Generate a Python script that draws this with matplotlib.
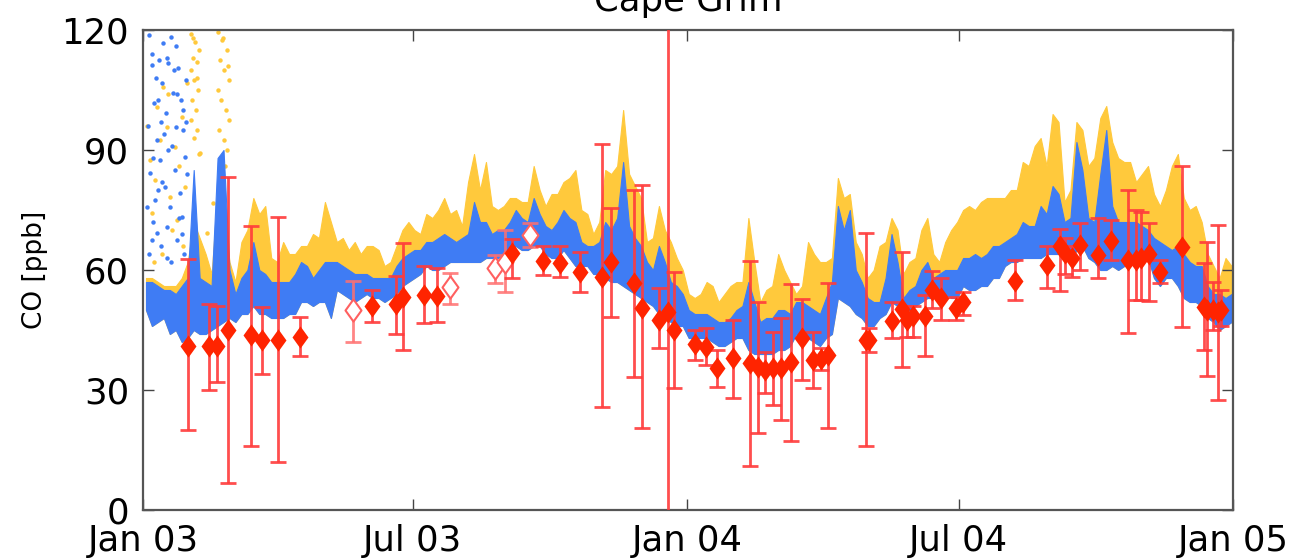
import numpy as np
import matplotlib
matplotlib.use("Agg")
import matplotlib.pyplot as plt
import matplotlib.dates as mdates
from matplotlib.ticker import FixedLocator

# ---------------------------------------------------------------------------
# Data
# ---------------------------------------------------------------------------
START = np.datetime64("2003-01-01")
BIN_DAYS = 4  # spacing of the band samples in days

# 4-day samples of the continuous records (ppb): low/high of the blue record,
# upper envelope of the yellow record
blue_lo = [50, 46, 47, 48, 44, 45, 42, 43, 45, 44,
           44, 45, 46, 47, 48, 47, 49, 49, 51, 49,
           49, 48, 48, 48, 49, 49, 52, 52, 51, 52,
           52, 48, 55, 54, 53, 52, 53, 54, 53, 53,
           52, 53, 54, 56, 57, 58, 59, 61, 60, 60,
           61, 62, 62, 62, 62, 62, 62, 63, 63, 63,
           64, 65, 66, 65, 65, 66, 66, 64, 63, 63,
           65, 63, 61, 61, 61, 59, 59, 58, 57, 57,
           56, 55, 54, 53, 52, 51, 49, 48, 47, 46,
           46, 43, 43, 43, 43, 42, 41, 41, 42, 43,
           43, 40, 39, 39, 39, 39, 40, 40, 41, 44,
           44, 43, 42, 41, 43, 44, 53, 52, 51, 49,
           48, 46, 46, 48, 49, 52, 51, 49, 50, 51,
           52, 53, 53, 54, 54, 53, 53, 56, 55, 55,
           56, 56, 58, 58, 61, 62, 62, 63, 63, 63,
           63, 64, 64, 64, 63, 62, 65, 66, 63, 62,
           60, 60, 61, 60, 61, 63, 63, 62, 63, 58,
           56, 58, 58, 56, 53, 52, 52, 51, 48, 47,
           45, 46, 47]

blue_hi = [57, 57, 56, 55, 55, 54, 56, 58, 85, 58,
           57, 56, 88, 90, 60, 54, 58, 60, 67, 60,
           59, 57, 57, 57, 57, 59, 62, 61, 58, 60,
           62, 62, 62, 61, 60, 59, 59, 59, 58, 58,
           58, 58, 61, 63, 64, 65, 65, 67, 67, 68,
           69, 68, 67, 68, 69, 77, 72, 72, 69, 70,
           70, 72, 75, 73, 72, 78, 74, 71, 70, 72,
           75, 73, 72, 67, 66, 66, 67, 72, 70, 73,
           87, 71, 68, 66, 62, 60, 66, 62, 57, 56,
           54, 50, 49, 49, 49, 48, 47, 47, 48, 50,
           51, 57, 52, 47, 48, 48, 50, 50, 49, 52,
           52, 51, 50, 49, 53, 57, 76, 70, 75, 60,
           57, 53, 52, 52, 58, 69, 62, 53, 55, 56,
           60, 62, 58, 59, 60, 60, 60, 63, 63, 64,
           63, 64, 66, 66, 67, 68, 69, 72, 71, 71,
           76, 74, 81, 79, 72, 73, 92, 85, 73, 72,
           84, 95, 76, 72, 72, 72, 72, 71, 70, 68,
           67, 66, 65, 66, 64, 62, 61, 61, 56, 54,
           54, 53, 54]

yel_hi = [58, 58, 57, 56, 56, 56, 58, 62, 72, 68,
          64, 59, 80, 75, 62, 57, 67, 70, 78, 74,
          76, 63, 62, 67, 64, 64, 66, 66, 69, 68,
          77, 72, 67, 68, 65, 67, 64, 66, 66, 65,
          61, 62, 66, 70, 72, 70, 69, 74, 73, 75,
          78, 74, 75, 71, 82, 89, 80, 87, 76, 75,
          76, 78, 78, 77, 77, 86, 80, 76, 79, 79,
          82, 83, 85, 75, 74, 69, 72, 85, 84, 86,
          100, 84, 81, 78, 67, 68, 76, 70, 67, 63,
          60, 54, 53, 54, 57, 56, 52, 54, 56, 57,
          57, 73, 62, 52, 55, 56, 64, 60, 57, 54,
          56, 67, 64, 62, 62, 63, 83, 78, 79, 67,
          64, 58, 60, 66, 67, 73, 70, 59, 62, 63,
          70, 73, 64, 62, 67, 70, 72, 75, 76, 75,
          77, 78, 78, 78, 78, 80, 80, 87, 86, 91,
          93, 86, 99, 97, 77, 80, 97, 95, 86, 88,
          98, 101, 92, 88, 87, 87, 82, 84, 86, 79,
          76, 80, 86, 89, 78, 75, 76, 72, 64, 61,
          58, 63, 61]

# scattered early-2003 readings (day of record, ppb)
blue_pts_day = [4.0, 5.8, 7.4, 9.2, 10.9, 12.5, 13.6, 15.2, 17.0, 18.6,
                20.3, 21.9, 23.7, 25.3, 27.0, 28.6, 4.7, 8.0, 11.4, 14.8,
                18.1, 21.5, 24.8, 28.2, 9.2, 15.9, 22.6, 5.8, 25.9, 2.5,
                10.3, 17.0, 3.2, 6.5, 8.6, 11.8, 13.0, 16.4, 19.5, 22.0,
                24.2, 26.5, 29.5, 3.8, 7.0, 12.0, 14.2, 19.0, 23.0, 27.5,
                6.2, 10.0, 16.0, 20.8, 26.2, 29.0]
blue_pts_co = [118.8, 111.3, 101.7, 92.5, 112.5, 106.7, 116.7, 99.2, 90.0, 118.3,
               104.2, 95.8, 110.4, 102.5, 95.0, 107.5, 84.2, 77.5, 87.5, 80.8,
               75.8, 85.0, 79.2, 88.3, 69.2, 70.8, 67.5, 67.5, 73.3, 75.8,
               102.5, 111.7, 96.0, 88.0, 108.0, 97.0, 82.0, 113.0, 91.0, 116.0,
               73.0, 100.0, 84.0, 64.0, 72.0, 66.0, 94.0, 62.0, 104.0, 64.0,
               114.0, 80.0, 63.0, 110.0, 69.0, 97.0]

yel_pts_day = [4.7, 8.0, 11.4, 15.9, 18.1, 21.5, 25.9, 29.3, 9.2, 13.6,
               22.6, 28.2, 42.7, 47.2, 5.8, 19.2, 38.2, 3.0, 12.5, 24.0,
               27.0, 16.8, 7.2,
               32.5, 35.0, 37.5, 33.5, 36.0, 32.0, 34.5, 37.0, 33.0, 35.5,
               32.5, 36.5, 34.0, 37.5, 33.8, 36.2,
               50.5, 53.0, 56.0, 51.5, 54.5, 57.5, 50.0, 52.5, 55.5, 58.0,
               51.0, 54.0, 56.5, 52.0, 55.0, 53.5, 57.0]
yel_pts_co = [87.5, 82.5, 92.5, 95.8, 78.3, 90.8, 98.3, 106.7, 100.8, 105.8,
              72.5, 80.8, 69.2, 76.7, 74.2, 70.0, 89.2, 96.0, 64.0, 86.0,
              66.0, 104.0, 62.0,
              119.0, 117.0, 115.0, 113.0, 112.0, 110.0, 107.5, 105.0, 102.5, 100.0,
              97.5, 95.0, 93.0, 89.0, 118.0, 108.0,
              119.5, 117.5, 115.0, 112.5, 110.0, 107.5, 105.0, 102.5, 100.0, 97.5,
              95.0, 92.5, 90.0, 87.5, 86.0, 118.0, 111.0]

# flask samples: day of record, mean, upper and lower bound (ppb), open marker flag
obs_day = [30.4, 44.3, 49.4, 56.8, 72.4, 80.0, 90.7, 105.3, 141.0, 153.8,
           169.7, 174.6, 188.5, 197.2, 205.9, 236.1, 242.8, 247.3, 259.6, 268.5,
           279.7, 293.1, 307.6, 313.7, 329.3, 334.5, 346.1, 352.3, 356.1, 370.2,
           377.6, 384.8, 395.9, 407.1, 412.7, 417.2, 422.7, 427.9, 434.4, 441.8,
           449.6, 454.5, 459.6, 484.9, 486.9, 502.1, 508.9, 512.2, 516.6, 524.5,
           529.0, 535.5, 544.9, 550.2, 584.8, 606.1, 615.0, 618.4, 622.9, 628.4,
           640.7, 649.0, 660.8, 666.0, 669.3, 674.7, 682.1, 696.5, 711.6, 713.6,
           717.7, 720.7, 722.7]
obs_co = [41.0, 41.0, 41.0, 45.0, 43.7, 42.5, 42.5, 43.3, 50.0, 51.0,
          51.5, 53.3, 53.7, 53.6, 55.7, 60.4, 62.0, 64.3, 68.7, 62.2,
          61.8, 59.6, 58.3, 62.0, 56.8, 50.4, 47.5, 49.6, 45.0, 41.5,
          40.8, 35.4, 37.9, 36.7, 35.8, 35.0, 35.4, 35.4, 37.1, 42.9,
          37.5, 37.7, 38.7, 42.5, 42.5, 47.2, 50.2, 47.5, 48.5, 48.6,
          55.0, 52.9, 50.4, 52.0, 57.3, 61.2, 66.0, 64.2, 62.9, 66.2,
          63.7, 67.3, 62.5, 62.5, 62.9, 63.9, 59.6, 65.8, 50.8, 50.0,
          50.0, 49.6, 50.0]
obs_upper = [62.7, 51.5, 51.0, 83.3, 71.0, 50.7, 73.3, 48.3, 57.3, 55.0,
             58.5, 66.7, 61.0, 60.6, 59.3, 63.7, 70.0, 67.7, 71.7, 66.0,
             66.0, 64.6, 91.4, 75.5, 80.0, 81.2, 55.5, 140.0, 59.6, 45.0,
             45.5, 40.0, 47.5, 62.3, 52.0, 39.6, 44.6, 48.0, 56.5, 52.7,
             44.6, 40.5, 56.8, 69.2, 45.5, 52.0, 64.6, 51.0, 51.0, 53.7,
             59.8, 58.0, 53.3, 54.6, 62.5, 65.9, 70.2, 68.0, 66.0, 71.7,
             72.9, 72.5, 80.0, 75.0, 74.6, 71.7, 62.5, 86.0, 61.8, 67.0,
             57.0, 71.2, 55.0]
obs_lower = [20.0, 30.0, 32.0, 6.7, 16.0, 34.0, 12.0, 38.5, 42.0, 47.0,
             44.0, 40.0, 46.7, 47.0, 51.5, 56.8, 54.6, 58.0, 65.8, 58.7,
             58.3, 54.6, 25.8, 48.3, 33.3, 20.5, 40.5, -40.0, 30.5, 37.5,
             36.2, 30.8, 28.0, 11.0, 19.2, 29.2, 26.2, 22.5, 17.3, 32.5,
             30.4, 35.0, 20.4, 16.0, 39.5, 43.0, 35.8, 43.3, 43.3, 38.6,
             50.4, 47.5, 47.5, 48.7, 52.6, 55.6, 54.7, 59.0, 58.3, 60.0,
             57.9, 62.5, 44.3, 52.5, 52.5, 52.3, 56.7, 45.8, 40.0, 33.5,
             45.0, 27.6, 46.0]
obs_open = [False] * len(obs_day)
for k in (8, 14, 15, 16, 18):
    obs_open[k] = True

tick_dates = ["2003-01-01", "2003-07-01", "2004-01-01", "2004-07-01", "2005-01-01"]
y_ticks = [0, 30, 60, 90, 120]

# ---------------------------------------------------------------------------
# Plot
# ---------------------------------------------------------------------------
t0 = mdates.date2num(START)


def tnum(days):
    return t0 + np.asarray(days, dtype=float)


BLUE = "#3f7cf4"
YELLOW = "#ffc93c"
RED = "#ff2400"
RED_LINE = "#ff3b3b"
# diamond a little narrower than it is tall
DIAMOND = [(0.0, 1.0), (0.72, 0.0), (0.0, -1.0), (-0.72, 0.0), (0.0, 1.0)]

plt.rcParams["font.family"] = ["DejaVu Sans"]
fig = plt.figure(figsize=(12.95, 5.58), dpi=100)
ax = fig.add_axes([143 / 1295, 48 / 558, 1090 / 1295, 480 / 558])

# band samples sit at the middle of each 4-day window
band_t = tnum(np.arange(len(blue_lo)) * BIN_DAYS + BIN_DAYS / 2)
lo = np.asarray(blue_lo, float)
ax.fill_between(band_t, lo, yel_hi, color=YELLOW, linewidth=0.8,
                edgecolor=YELLOW, zorder=1)
ax.plot(tnum(yel_pts_day), yel_pts_co, "o", ms=3.2, color=YELLOW, mew=0, zorder=1)
ax.fill_between(band_t, lo, blue_hi, color=BLUE, linewidth=0.8,
                edgecolor=BLUE, zorder=2)
ax.plot(tnum(blue_pts_day), blue_pts_co, "o", ms=3.2, color=BLUE, mew=0, zorder=2)

day = np.asarray(obs_day)
co = np.asarray(obs_co)
up = np.asarray(obs_upper)
dn = np.asarray(obs_lower)
is_open = np.asarray(obs_open)

for sel, filled in ((~is_open, True), (is_open, False)):
    yerr = [co[sel] - dn[sel], up[sel] - co[sel]]
    if filled:
        ax.errorbar(tnum(day[sel]), co[sel], yerr=yerr, fmt="none",
                    ecolor=RED_LINE, elinewidth=2, capsize=6, capthick=2,
                    alpha=0.9, zorder=4)
        ax.plot(tnum(day[sel]), co[sel], linestyle="none", marker=DIAMOND,
                ms=16, color=RED, mew=0, zorder=5)
    else:
        ax.errorbar(tnum(day[sel]), co[sel], yerr=yerr, fmt="none",
                    ecolor="#ff7070", elinewidth=2, capsize=6, capthick=2,
                    alpha=0.85, zorder=3)
        ax.plot(tnum(day[sel]), co[sel], linestyle="none", marker=DIAMOND,
                ms=16, mfc="white", mec="#ff6060", mew=1.5, zorder=3)

ax.set_xlim(tnum(0), mdates.date2num(np.datetime64("2005-01-01")))
ax.set_ylim(0, 120)
ax.xaxis.set_major_locator(FixedLocator([mdates.date2num(np.datetime64(d)) for d in tick_dates]))
ax.xaxis.set_major_formatter(mdates.DateFormatter("%b %y"))
ax.set_yticks(y_ticks)

ax.tick_params(direction="in", top=True, right=True, length=8, width=1,
               color="#444444", labelsize=25.5, pad=10)
for s in ax.spines.values():
    s.set_linewidth(1.6)
    s.set_color("#555555")

ax.set_ylabel("CO [ppb]", fontsize=19, labelpad=10)
ax.set_title("Cape Grim", fontsize=25.5, pad=14)

fig.savefig("out.png", dpi=100)
